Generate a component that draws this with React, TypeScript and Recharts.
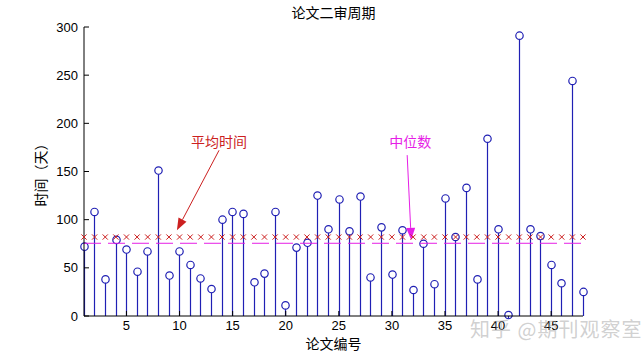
import React from 'react';
import { ComposedChart, Bar, Scatter, XAxis, YAxis, ReferenceLine } from 'recharts';

// review time (days) for each paper
const reviewDays = [
    72, 108, 38, 79, 69, 46, 67, 151, 42, 67,
    53, 39, 28, 100, 108, 106, 35, 44, 108, 11,
    71, 76, 125, 90, 121, 88, 124, 40, 92, 43,
    89, 27, 75, 33, 122, 82, 133, 38, 184, 90,
    1, 291, 90, 83, 53, 34, 244, 25,
];
const paperIds = reviewDays.map((_, i) => i + 1);
const xTicks = [5, 10, 15, 20, 25, 30, 35, 40, 45];
const yTicks = [0, 50, 100, 150, 200, 250, 300];

const titleText = '论文二审周期';
const xLabel = '论文编号';
const yLabel = '时间（天）';
const meanLabel = '平均时间';
const medianLabel = '中位数';
const watermark = '知乎 @期刊观察室';

const meanDays = reviewDays.reduce((a, b) => a + b, 0) / reviewDays.length;
const sortedDays = [...reviewDays].sort((a, b) => a - b);
const mid = sortedDays.length / 2;
const medianDays = (sortedDays[mid - 1] + sortedDays[mid]) / 2;

const rows = paperIds.map((id, i) => ({ id, days: reviewDays[i], mean: meanDays }));

const BLUE = '#2020b4';
const RED = '#cc1f1f';
const MAGENTA = '#e61ee6';
const CJK = '"Noto Sans CJK SC", sans-serif';
const NUM = '"Liberation Sans", Arial, sans-serif';

const Stem = (props: any) => {
    const { x, y, width, height } = props;
    const cx = Math.round(x + width / 2) + 0.5;
    const r = 3.7;
    return (
        <g>
            <line x1={cx} y1={y + r} x2={cx} y2={y + height} stroke={BLUE} strokeWidth={1.2} />
            <circle cx={cx} cy={y} r={r} fill="none" stroke={BLUE} strokeWidth={1.2} />
        </g>
    );
};

const XMark = (props: any) => {
    const { cx, cy } = props;
    const s = 2.6;
    return (
        <g stroke={RED} strokeWidth={1}>
            <line x1={cx - s} y1={cy - s} x2={cx + s} y2={cy + s} />
            <line x1={cx - s} y1={cy + s} x2={cx + s} y2={cy - s} />
        </g>
    );
};

const arrowShape = (color: string, text: string, dx: number, dy: number) => (p: any) => {
    const { x1, y1, x2, y2 } = p;
    const ang = Math.atan2(y2 - y1, x2 - x1);
    const len = 12;
    const half = 4.5;
    const bx = x2 - len * Math.cos(ang);
    const by = y2 - len * Math.sin(ang);
    const px = -Math.sin(ang) * half;
    const py = Math.cos(ang) * half;
    return (
        <g>
            <line x1={x1} y1={y1} x2={bx} y2={by} stroke={color} strokeWidth={1} />
            <polygon points={`${x2},${y2} ${bx + px},${by + py} ${bx - px},${by - py}`} fill={color} />
            <text x={x1 + dx} y={y1 + dy} textAnchor="middle" fill={color} fontSize={14} fontFamily={CJK}>
                {text}
            </text>
        </g>
    );
};

const App: React.FC = () => {
    return (
        <div style={{ position: 'absolute', left: 0, top: 0, width: 644, height: 355, background: '#fff' }}>
            <div style={{
                position: 'absolute', left: 0, width: 667, top: 2, textAlign: 'center',
                fontFamily: CJK, fontSize: 14, color: '#000',
            }}>
                {titleText}
            </div>
            <ComposedChart
                width={644}
                height={355}
                data={rows}
                margin={{ top: 27, right: 61, left: 0, bottom: 0 }}
            >
                <XAxis
                    dataKey="id"
                    type="number"
                    domain={[1, 48]}
                    ticks={xTicks}
                    height={39}
                    tickSize={-5}
                    tickMargin={10}
                    stroke="#000"
                    tick={{ fill: '#000', fontSize: 13, fontFamily: NUM }}
                    label={{ value: xLabel, position: 'insideBottom', offset: 6, fill: '#000', fontSize: 14, fontFamily: CJK }}
                />
                <XAxis
                    xAxisId="top"
                    dataKey="id"
                    type="number"
                    orientation="top"
                    domain={[1, 48]}
                    ticks={xTicks}
                    height={0}
                    tickSize={-5}
                    tick={false}
                    stroke="#000"
                />
                <YAxis
                    domain={[0, 300]}
                    ticks={yTicks}
                    width={84}
                    tickSize={-5}
                    tickMargin={11}
                    stroke="#000"
                    tick={{ fill: '#000', fontSize: 13, fontFamily: NUM }}
                    label={{ value: yLabel, angle: -90, position: 'center', dx: -1, fill: '#000', fontSize: 14, fontFamily: CJK }}
                />
                <YAxis
                    yAxisId="right"
                    orientation="right"
                    domain={[0, 300]}
                    ticks={yTicks}
                    width={0}
                    tickSize={-5}
                    tick={false}
                    stroke="#000"
                />
                <ReferenceLine y={medianDays} stroke={MAGENTA} strokeWidth={1} strokeDasharray="17 7" />
                <Bar dataKey="days" barSize={4} shape={Stem} isAnimationActive={false} />
                <Scatter dataKey="mean" shape={XMark} isAnimationActive={false} />
                <ReferenceLine
                    segment={[{ x: 13.72, y: 172 }, { x: 9.75, y: 89 }]}
                    shape={arrowShape(RED, meanLabel, 0, -3)}
                />
                <ReferenceLine
                    segment={[{ x: 31.44, y: 167 }, { x: 31.82, y: 79 }]}
                    shape={arrowShape(MAGENTA, medianLabel, 3, -8)}
                />
            </ComposedChart>
            <div style={{
                position: 'absolute', left: 470, top: 314, fontFamily: CJK, fontSize: 20,
                color: 'rgba(170,170,170,0.55)', whiteSpace: 'nowrap', letterSpacing: 1,
            }}>
                {watermark}
            </div>
        </div>
    );
};

export default App;
